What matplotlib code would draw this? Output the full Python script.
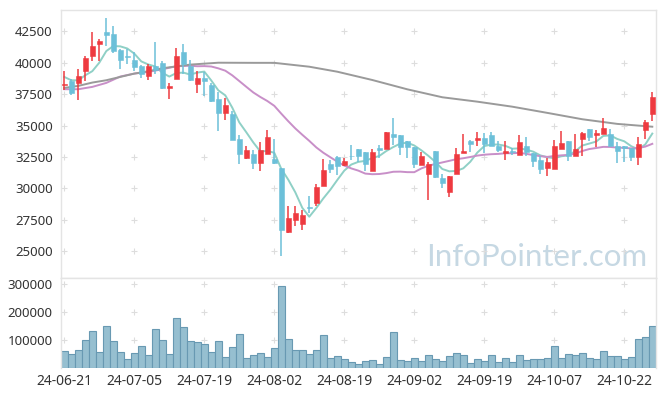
import matplotlib.pyplot as plt
import numpy as np
import pandas as pd

# daily candles
dates = ['24-06-21', '24-07-05', '24-07-19', '24-08-02', '24-08-19',
         '24-09-02', '24-09-19', '24-10-07', '24-10-22']
date_idx = [0, 10, 20, 30, 40, 50, 60, 70, 80]

opens = [38207, 38551, 38419, 39346, 40512, 41520, 42447, 42261, 41016, 40565,
         40221, 39744, 38975, 39744, 39982, 38021, 38737, 40857, 39717, 38340,
         38790, 38260, 37120, 36034, 35928, 33940, 32377, 32748, 31979, 32695,
         32351, 31635, 26494, 27448, 27130, 28535, 28800, 30177, 31953, 32456,
         31847, 32589, 33146, 32907, 31344, 33172, 33119, 34338, 34259, 33755,
         33278, 31820, 31105, 32960, 30840, 29701, 31105, 32775, 33755, 33861,
         33993, 34259, 33384, 32775, 32960, 32616, 33384, 32827, 32271, 31582,
         31502, 33092, 33782, 32536, 33914, 34735, 34232, 34364, 34338, 33357,
         33331, 33225, 32456, 34682, 35954]
highs = [39320, 38737, 39479, 40512, 42447, 41864, 43560, 42924, 41070, 41122,
         40883, 39800, 39877, 41652, 40115, 38393, 41175, 41467, 40194, 39320,
         39267, 38393, 37677, 37200, 36193, 34285, 33357, 33013, 33649, 34656,
         33940, 31635, 28588, 28588, 28243, 29409, 30310, 32324, 32218, 32562,
         32377, 33437, 33146, 32907, 33146, 33437, 34497, 35637, 34259, 33755,
         33278, 32907, 32059, 32960, 31105, 30972, 33225, 34311, 33887, 34470,
         34417, 34497, 33755, 33755, 33225, 34232, 34099, 32827, 32536, 32430,
         33835, 34576, 33782, 34311, 34497, 34735, 34629, 35610, 34762, 33649,
         33331, 33225, 34126, 35478, 37650]
lows = [37862, 37412, 37015, 38525, 40115, 40115, 41307, 40804, 39532, 39930,
        39320, 38790, 38605, 39134, 37889, 37147, 38737, 39134, 38578, 37624,
        37359, 36882, 34550, 35477, 33850, 31900, 32330, 31529, 31370, 32695,
        31900, 24612, 26415, 26998, 26680, 28058, 28614, 30177, 31211, 31052,
        31767, 32245, 32112, 31370, 31344, 32430, 33119, 33437, 32642, 32377,
        31582, 31820, 29065, 30787, 29992, 29330, 31105, 32775, 32907, 33384,
        32775, 33357, 32907, 32245, 32616, 32616, 32589, 31688, 31158, 30946,
        31502, 33092, 32191, 32536, 32589, 33782, 33305, 34364, 33357, 32032,
        32085, 32165, 31847, 33940, 35372]
closes = [38340, 37624, 38949, 40380, 41334, 41731, 42235, 40963, 40247, 40486,
          39691, 39134, 39744, 39452, 37995, 38154, 40539, 39930, 38657, 38790,
          38551, 36988, 36034, 36644, 33887, 32695, 33066, 31979, 33066, 34073,
          31979, 26653, 27660, 28058, 27897, 28429, 30125, 31476, 31502, 31794,
          32165, 32536, 32536, 31900, 32907, 33013, 34497, 34126, 33278, 33252,
          31900, 32589, 31953, 30867, 30390, 30972, 32748, 32987, 33490, 34020,
          33569, 33357, 33013, 32960, 32880, 33702, 32854, 32191, 31502, 32112,
          33357, 33596, 32562, 33146, 34391, 34126, 34417, 34788, 33357, 32960,
          33198, 32456, 33543, 35318, 37280]
volumes = [60700, 50000, 64300, 98800, 131000, 57100, 148800, 96400, 57100, 32100,
           53600, 77400, 45200, 138100, 100000, 50000, 177400, 145200, 96400, 92900,
           85700, 57100, 96400, 38100, 73800, 121400, 35700, 45200, 53600, 39300,
           71400, 292900, 102400, 64300, 64300, 50000, 64300, 116700, 34500, 42900,
           31000, 20200, 13100, 23800, 28600, 13100, 38100, 127400, 28600, 23800,
           34500, 23800, 45200, 31000, 23800, 41700, 52400, 45200, 16700, 31000,
           23800, 45200, 20200, 34500, 20200, 45200, 27400, 31000, 31000, 34500,
           77400, 34500, 48800, 45200, 52400, 34500, 31000, 59500, 41700, 41700,
           31000, 38100, 102400, 109500, 148800]

# moving average values before the window is full
ma5_head = [38870, 38600, 38600, 39000]
ma20_head_idx = [0, 2, 4, 6, 8, 10, 12, 14, 16, 18]
ma20_head = [37890, 37890, 38075, 38393, 38900, 39134, 39267, 39479, 39717, 39760]

# long average (gray)
long_ma_idx = [0, 2, 4, 6, 8, 10, 12, 14, 18, 22, 27, 30, 35, 39, 44, 49, 54,
               59, 64, 69, 74, 79, 84]
long_ma = [37995, 38154, 38419, 38605, 38870, 39134, 39320, 39560, 39850, 40000,
           39990, 39990, 39682, 39284, 38624, 37883, 37250, 36900, 36500, 36007,
           35500, 35130, 34906]

main_yticks = [25000, 27500, 30000, 32500, 35000, 37500, 40000, 42500]
vol_yticks = [100000, 200000, 300000]

up_color = '#ee3a40'
down_color = '#6cc0d9'

df = pd.DataFrame({'open': opens, 'high': highs, 'low': lows, 'close': closes, 'vol': volumes})
x = np.arange(len(df))
close_s = df['close']
ma5 = close_s.rolling(5).mean()
ma20 = close_s.rolling(20).mean()

plt.rcParams['font.family'] = ['Noto Sans', 'DejaVu Sans']

fig = plt.figure(figsize=(6.65, 3.96), dpi=100)
ax = fig.add_axes([61 / 665, 118 / 396, 595 / 665, 268 / 396])
axv = fig.add_axes([61 / 665, 28 / 396, 595 / 665, 90 / 396], sharex=ax)

# moving averages
ax.plot(list(range(4)) + list(x[4:]), ma5_head + list(ma5[4:]), color='#8fd0c6', lw=1.4, zorder=2)
ax.plot(ma20_head_idx + list(x[19:]), ma20_head + list(ma20[19:]), color='#c88fc8', lw=1.4, zorder=2)
ax.plot(long_ma_idx, long_ma, color='#9a9a9a', lw=1.4, zorder=2)

# candles
for i, r in df.iterrows():
    up = r['close'] >= r['open']
    c = up_color if up else down_color
    ax.vlines(i, r['low'], r['high'], color=c, lw=1.1, zorder=3)
    lo = min(r['open'], r['close'])
    h = max(abs(r['close'] - r['open']), 40)
    ax.bar(i, h, bottom=lo, width=0.72, color=c, edgecolor=c, linewidth=0.4, zorder=4)

# volume
axv.bar(x, df['vol'], width=1.0, color='#96bfd0', edgecolor='#6899b2', linewidth=0.8, zorder=2)

ax.set_xlim(-0.47, 84.53)
ax.set_ylim(22863, 44196)
axv.set_ylim(0, 321400)

ax.set_yticks(main_yticks)
axv.set_yticks(vol_yticks)
axv.set_xticks(date_idx)
axv.set_xticklabels(dates)
ax.tick_params(axis='x', labelbottom=False, length=0)
ax.tick_params(axis='y', length=0, pad=6, labelsize=9.5, labelcolor='#333333')
axv.tick_params(axis='y', length=0, pad=6, labelsize=9.5, labelcolor='#333333')
axv.tick_params(axis='x', length=0, pad=4, labelsize=10, labelcolor='#333333')

# grid crosses
gx, gy = np.meshgrid(date_idx, main_yticks)
ax.scatter(gx.ravel(), gy.ravel(), marker='+', s=14, color='#dddddd', lw=0.8, zorder=1)
gx, gy = np.meshgrid(date_idx, vol_yticks)
axv.scatter(gx.ravel(), gy.ravel(), marker='+', s=14, color='#dddddd', lw=0.8, zorder=1)

for a in (ax, axv):
    for s in a.spines.values():
        s.set_color('#e4e4e4')
        s.set_linewidth(1)
axv.spines['bottom'].set_visible(False)

ax.text(0.985, 0.025, 'InfoPointer.com', transform=ax.transAxes, ha='right', va='bottom',
        fontsize=22.5, color='#c6d8e3', family=['Lato', 'DejaVu Sans'], zorder=0)

plt.savefig('out.png', dpi=100)
